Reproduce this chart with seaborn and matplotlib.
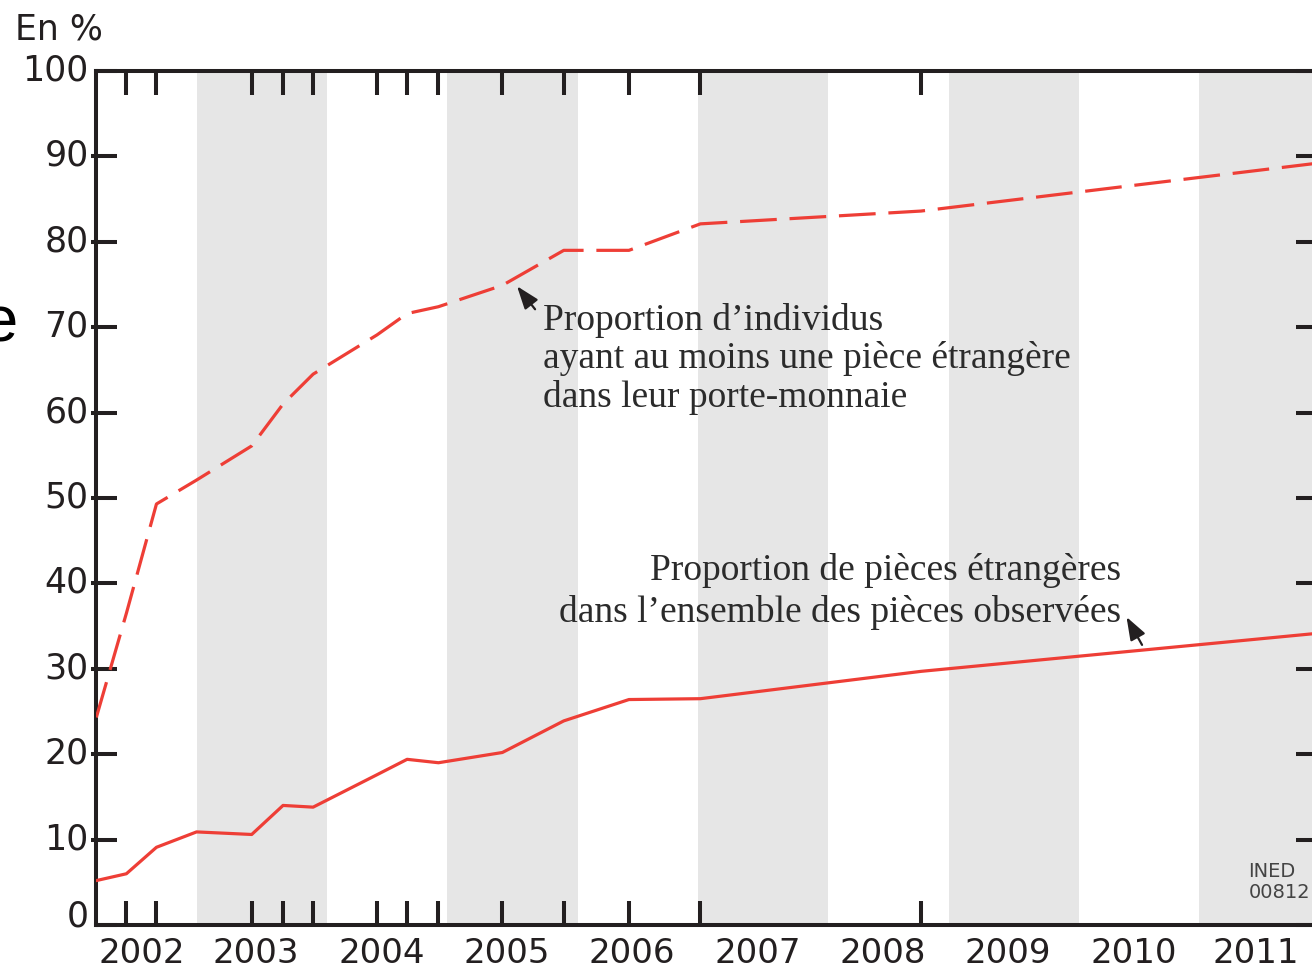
import matplotlib
matplotlib.use('Agg')
import matplotlib.pyplot as plt
import matplotlib.transforms as mtransforms
import pandas as pd
import seaborn as sns

# ---------------- data ----------------
dates = [2002.18, 2002.42, 2002.66, 2002.98, 2003.42, 2003.67, 2003.91, 2004.42,
         2004.66, 2004.91, 2005.42, 2005.91, 2006.43, 2007.00, 2008.76, 2011.92]
individus = [24.3, 36.5, 49.3, 52.1, 56.1, 61.0, 64.5, 69.1,
             71.6, 72.4, 74.9, 79.0, 79.0, 82.1, 83.6, 89.2]
pieces = [5.2, 6.0, 9.1, 10.9, 10.6, 14.0, 13.8, 17.6,
          19.4, 19.0, 20.2, 23.9, 26.4, 26.5, 29.7, 34.15]
survey_ticks = [2002.42, 2002.66, 2003.42, 2003.67, 2003.91, 2004.42, 2004.66,
                2004.91, 2005.42, 2005.91, 2006.43, 2007.00, 2008.76]
years = [2002, 2003, 2004, 2005, 2006, 2007, 2008, 2009, 2010, 2011]
year_labels = [str(y) for y in years]
shaded_years = [2003, 2005, 2007, 2009, 2011]
y_ticks = [0, 10, 20, 30, 40, 50, 60, 70, 80, 90, 100]
label_individus = "Proportion d’individus\nayant au moins une pièce étrangère\ndans leur porte-monnaie"
label_pieces = "Proportion de pièces étrangères\ndans l’ensemble des pièces observées"
unit_label = "En %"
source_label = "INED\n00812"

# ---------------- style ----------------
sns.set_theme(style='white')
plt.rcParams['font.family'] = ['DejaVu Sans']
ink = '#231f20'
red = '#ee3e36'

W, H = 1312, 972
fig = plt.figure(figsize=(W / 100, H / 100), dpi=100)
ax = fig.add_axes([96.3 / W, 1 - 925 / H, (1317 - 96.3) / W, (925 - 71) / H])

for y in shaded_years:
    ax.axvspan(y - 0.02, y + 1.02, color='#e6e6e6', lw=0, zorder=0)

df = pd.DataFrame({'date': dates, 'individus': individus, 'pieces': pieces})
sns.lineplot(data=df, x='date', y='individus', ax=ax, color=red, lw=2.3,
             linestyle=(0, (11.5, 4)), zorder=3)
sns.lineplot(data=df, x='date', y='pieces', ax=ax, color=red, lw=2.3, zorder=3)

ax.set_xlim(2002.18, 2011.92)
ax.set_ylim(0, 100)
ax.set_xlabel('')
ax.set_ylabel('')

for s in ax.spines.values():
    s.set_color(ink)
    s.set_linewidth(2.9)
    s.set_visible(True)

# x ticks: survey dates (inward, top and bottom); year labels as minor ticks
label_pos = [y + 0.455 for y in years]
label_pos[0] = years[0] + 0.546
label_pos[-1] = years[-1] + 0.433
ax.xaxis.remove_overlapping_locs = False
ax.set_xticks(survey_ticks)
ax.set_xticks(label_pos, labels=year_labels, minor=True)
ax.tick_params(axis='x', which='major', direction='in', length=17.3, width=2.9,
               color=ink, top=True, bottom=True, labelbottom=False, labeltop=False)
ax.tick_params(axis='x', which='minor', length=0, pad=8.4, labelsize=24.5,
               labelcolor=ink, top=False, bottom=True)

# y ticks
ax.yaxis.remove_overlapping_locs = False
ax.set_yticks(y_ticks)
ax.tick_params(axis='y', which='major', direction='in', length=14.9, width=2.9,
               color=ink, left=True, right=True, labelsize=25, labelcolor=ink, pad=5.5)
ax.set_yticks(y_ticks[1:-1], minor=True)
ax.tick_params(axis='y', which='minor', direction='out', length=3.6, width=2.9,
               color=ink, left=True, right=False, labelleft=False)
for lab, v in zip(ax.get_yticklabels(), y_ticks):
    dy = 0.125 if v == 0 else 0.04
    lab.set_transform(lab.get_transform() +
                      mtransforms.ScaledTranslation(0, dy, fig.dpi_scale_trans))

# annotations
arrow = dict(arrowstyle='-|>,head_length=0.5,head_width=0.18', color=ink, lw=1.6,
             mutation_scale=28, shrinkA=0, shrinkB=0)
ax.annotate('', xy=(2005.537, 74.8), xytext=(2005.681, 72.1), arrowprops=arrow, zorder=4)
ax.annotate('', xy=(2010.40, 36.07), xytext=(2010.524, 32.8), arrowprops=arrow, zorder=4)

ax.text(2005.744, 60.69, label_individus, ha='left', va='baseline',
        family='Liberation Serif', fontsize=27, color='#2b2b2b', linespacing=1.13, zorder=5)
ax.text(2010.356, 35.5, label_pieces, ha='right', va='baseline', multialignment='right',
        family='Liberation Serif', fontsize=27, color='#2b2b2b', linespacing=1.24, zorder=5)

fig.text(1310 / W, 1 - 862 / H, source_label, ha='right', va='top', multialignment='left',
         family=['DejaVu Sans Condensed', 'Liberation Sans Narrow', 'DejaVu Sans'],
         fontsize=14, color='#444444', linespacing=1.1)
fig.text(15 / W, 1 - 40 / H, unit_label, ha='left', va='baseline', fontsize=25, color=ink)
fig.text(18 / W, 1 - 341 / H, 'e', ha='right', va='baseline', family='Liberation Sans',
         fontsize=47, color='black')

fig.savefig('out.png', dpi=100)
